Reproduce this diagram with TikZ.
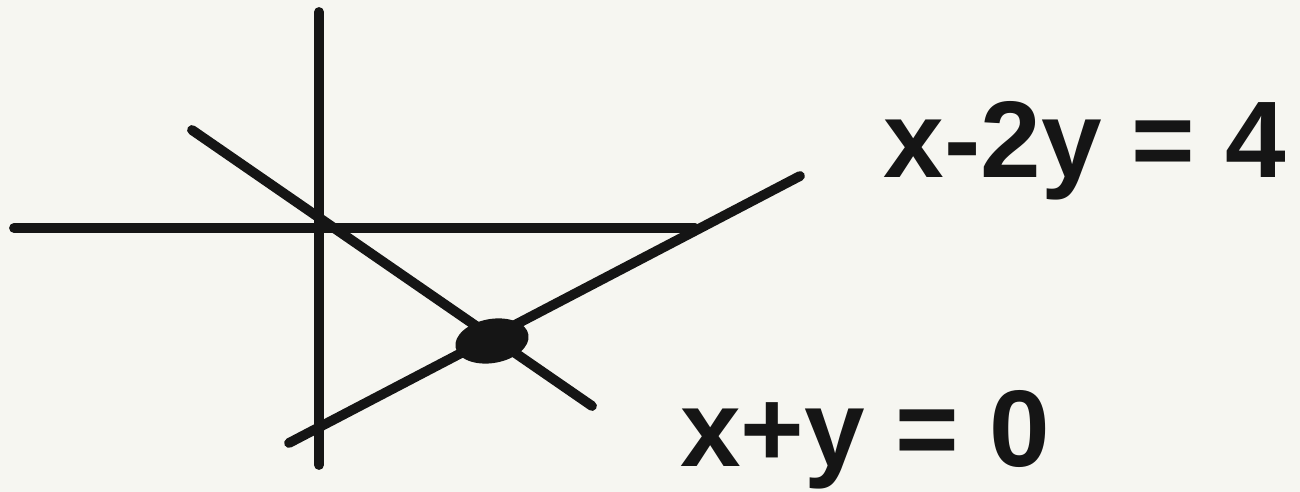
\documentclass[tikz,border=0pt]{standalone}
\usepackage{fontspec}
\setmainfont{Liberation Sans}
\definecolor{paper}{HTML}{F6F6F1}
\definecolor{ink}{HTML}{151515}
\tikzset{
  stroke/.style={ink, line width=5.6pt},
  eqn/.style={ink, font=\fontsize{62}{62}\selectfont\bfseries, inner sep=0pt}
}

\begin{document}
\begin{tikzpicture}[x=0.02cm, y=-0.02cm, line join=round, line cap=round]
    \fill[paper] (0,0) rectangle (1300,492);
    \useasboundingbox (0,0) rectangle (1300,492);
    % axes
    \coordinate (ytop) at (319,12);
    \coordinate (ybot) at (319,465);
    \coordinate (xleft) at (14,228);
    \coordinate (xright) at (695,228);
    \draw[stroke] (ytop) -- (ybot);
    \draw[stroke] (xleft) -- (xright);
    % the two lines
    \coordinate (sumA) at (192,130);
    \coordinate (sumB) at (592,406);
    \coordinate (difA) at (289,443);
    \coordinate (difB) at (800,176);
    \draw[stroke] (sumA) -- (sumB);
    \draw[stroke] (difA) -- (difB);
    % intersection point
    \fill[ink, rotate around={10:(492,341)}] (492,341) ellipse [x radius=37, y radius=22];
    \node[eqn] (difLbl) at (1085,151) {x-2y = 4};
    \node[eqn] (sumLbl) at (865,440) {x+y = 0};
  \end{tikzpicture}
\end{document}
